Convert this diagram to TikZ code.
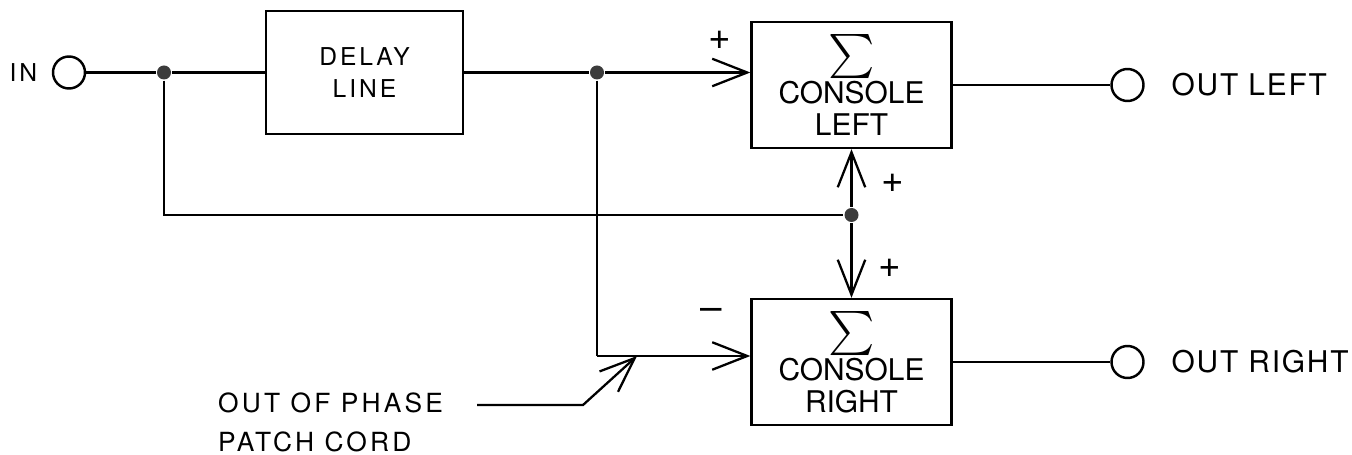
\documentclass[tikz,border=0pt]{standalone}
\usepackage{amsmath}
\usepackage{graphicx}
\usepackage{fontspec}
\setmainfont{TeX Gyre Heros}
\newfontfamily\spacedfont[LetterSpace=12]{TeX Gyre Heros}
\newfontfamily\widefont[LetterSpace=6]{TeX Gyre Heros}
\usepackage{tikz}
\usetikzlibrary{
  arrows.meta,
  positioning,
  calc,
}
\definecolor{tapgray}{HTML}{3C3C3C}
\newcommand{\sumsign}{\scalebox{1.45}{$\sum$}}

\begin{document}
\begin{tikzpicture}[line width=1.3pt,
  barb/.style={-{Straight Barb[length=7mm,width=5.5mm]}},
  blk/.style={draw, minimum width=4cm, minimum height=2.52cm, align=center, inner sep=0pt},
  jack/.style={draw, circle, minimum size=0.64cm, inner sep=0pt, line width=1.4pt},
  tap/.style={circle, fill=tapgray, minimum size=0.28cm, inner sep=0pt},
  small/.style={font=\spacedfont\fontsize{14}{18}\selectfont},
  big/.style={font=\fontsize{17}{18}\selectfont},
  wide/.style={font=\widefont\fontsize{17}{18}\selectfont},
  sign/.style={font=\fontsize{22}{22}\selectfont}]
  \useasboundingbox (0,0) rectangle (27.04,-9.1);

  \node[jack] (in) at (1.38,-1.45) {};
  \node[small, left=0.15cm of in] (inlbl) {IN};
  \node[tap] (t1) at (3.28,-1.45) {};
  \node[blk, small, minimum width=3.94cm, minimum height=2.46cm] (delay) at (7.29,-1.45) {DELAY\\LINE};
  \node[tap] (t2) at (11.94,-1.45) {};

  \node[blk, big] (consL) at (17.03,-1.7) {\sumsign\\[0.02cm]CONSOLE\\LEFT};
  \node[blk, big] (consR) at (17.03,-7.24) {\sumsign\\[0.02cm]CONSOLE\\RIGHT};
  \node[tap] (t3) at (17.03,-4.3) {};

  \node[jack] (outL) at (22.55,-1.7) {};
  \node[wide, right=0.4cm of outL] (outLlbl) {OUT LEFT};
  \node[jack] (outR) at (22.55,-7.24) {};
  \node[wide, right=0.4cm of outR] (outRlbl) {OUT RIGHT};

  \node[sign] (plusA) at (14.4,-0.8) {+};
  \node[sign] (plusB) at (17.86,-3.66) {+};
  \node[sign] (plusC) at (17.8,-5.36) {+};
  \node[sign] (minus) at (14.22,-6.28) {\textendash};

  \draw (in) -- (t1);
  \draw (t1) -- (t1 -| delay.west);
  \draw (delay) -- (t2);
  \draw[barb] (t2) -- (t2 -| consL.west);
  \draw (t1) |- (t3);
  \draw[barb] (t3) -- (consL);
  \draw[barb] (t3) -- (consR);
  \draw (consL) -- (outL);
  \draw (consR) -- (outR);

  \coordinate (bend) at (11.94,-7.12);
  \draw (t2) -- (bend);
  \draw[barb] (bend) -- (bend -| consR.west);

  \node[small, font=\spacedfont\fontsize{15}{22}\selectfont, align=left, anchor=north west, inner sep=0pt] (cord) at (4.34,-7.84) {OUT OF PHASE\\PATCH CORD};
  \coordinate (lead) at (9.54,-8.1);
  \coordinate (cordtip) at ($(bend)+(0.8,0)$);
  \draw[barb] (lead) -- ++(2.12,0) -- (cordtip);
\end{tikzpicture}
\end{document}
